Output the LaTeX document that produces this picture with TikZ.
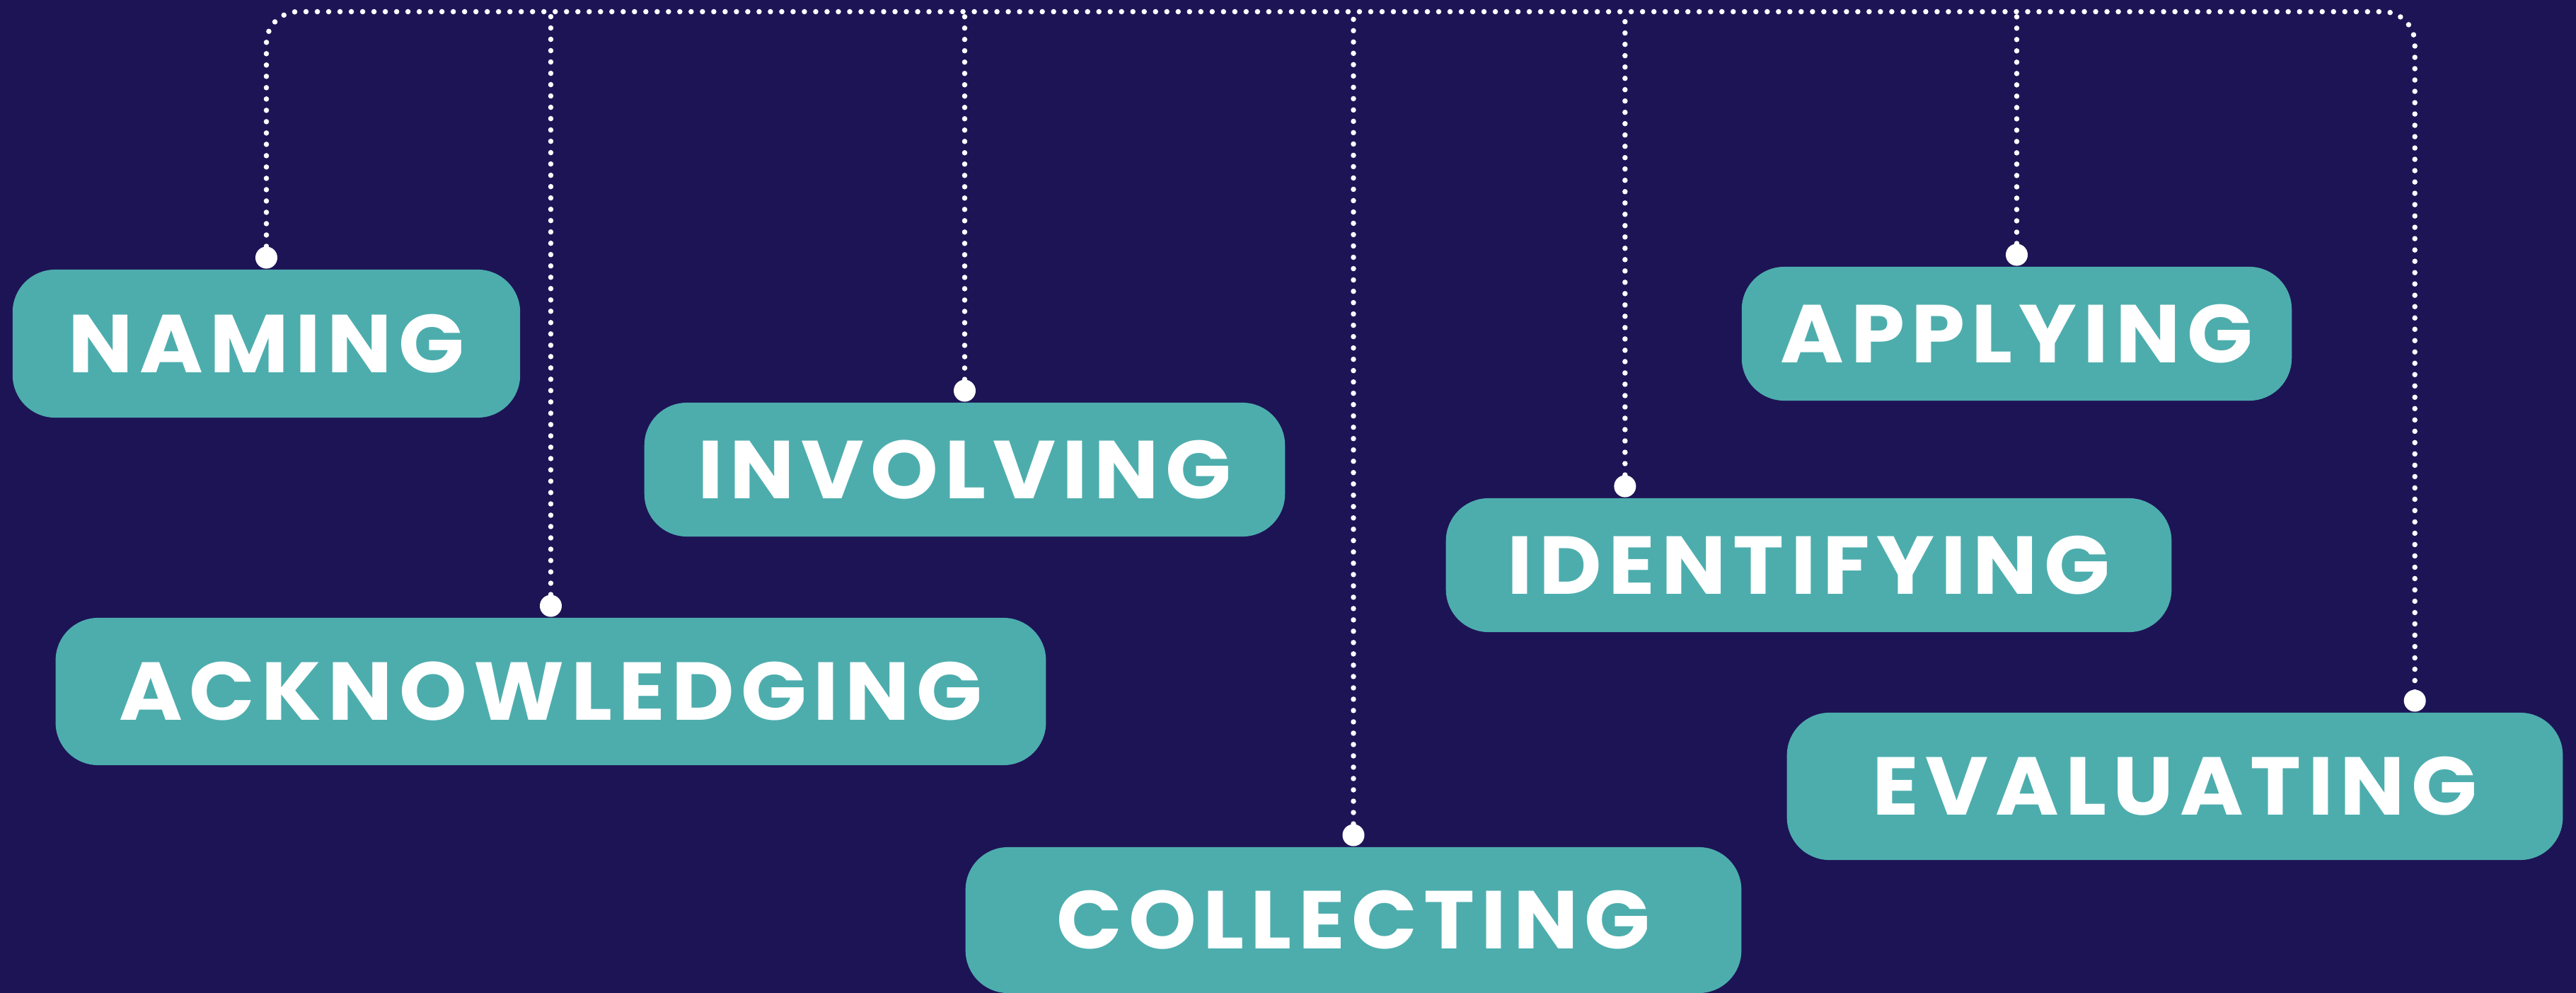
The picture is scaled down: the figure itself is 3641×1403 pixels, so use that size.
\documentclass[tikz,border=0pt]{standalone}
\usepackage{fontspec}
\setmainfont{Poppins}[LetterSpace=8,FakeStretch=1.05]
\definecolor{night}{RGB}{29,20,86}
\definecolor{tagteal}{RGB}{77,173,173}

\begin{document}
\begin{tikzpicture}[x=0.01cm,y=-0.01cm,
  tag/.style={fill=tagteal,text=white,rounded corners=0.6cm,inner sep=0pt,
    minimum height=1.89cm,font=\fontsize{33}{40}\selectfont\bfseries},
  pin/.style={circle,fill=white,inner sep=0pt,minimum size=0.31cm,anchor=south},
  dotline/.style={white,line width=0.075cm,line cap=round,dash pattern=on 0pt off 0.16cm}]

\fill[night] (0,0) rectangle (3641,1403);
\useasboundingbox (0,0) rectangle (3641,1403);

% the tags
\node[tag,minimum width=7.17cm,minimum height=2.09cm] (naming) at (376.5,485.5) {NAMING};
\node[tag,minimum width=13.99cm,minimum height=2.08cm] (acknowledging) at (778.5,977) {ACKNOWLEDGING};
\node[tag,minimum width=9.05cm] (involving) at (1363.5,663.5) {INVOLVING};
\node[tag,minimum width=10.96cm,minimum height=2.06cm] (collecting) at (1913,1300) {COLLECTING};
\node[tag,minimum width=10.25cm] (identifying) at (2556.5,798.5) {IDENTIFYING};
\node[tag,minimum width=7.77cm] (applying) at (2850.5,471.5) {APPLYING};
\node[tag,minimum width=10.96cm,minimum height=2.08cm] (evaluating) at (3074,1111) {EVALUATING};

% pins on top of the tags
\node[pin] (naming-pin) at (naming.north) {};
\node[pin] (acknowledging-pin) at (acknowledging.north) {};
\node[pin] (involving-pin) at (involving.north) {};
\node[pin] (collecting-pin) at (collecting.north) {};
\node[pin] (identifying-pin) at ([xshift=-2.595cm]identifying.north) {};
\node[pin] (applying-pin) at (applying.north) {};
\node[pin] (evaluating-pin) at ([xshift=3.39cm]evaluating.north) {};

% dotted rail
\coordinate (rail) at (0,16.5);
\draw[dotline,rounded corners=0.45cm] (naming-pin.center) |- (evaluating-pin |- rail) -- (evaluating-pin.center);
\foreach \p in {acknowledging,involving,collecting,identifying,applying}
  \draw[dotline] (\p-pin.center) -- (\p-pin |- rail);

\end{tikzpicture}
\end{document}
